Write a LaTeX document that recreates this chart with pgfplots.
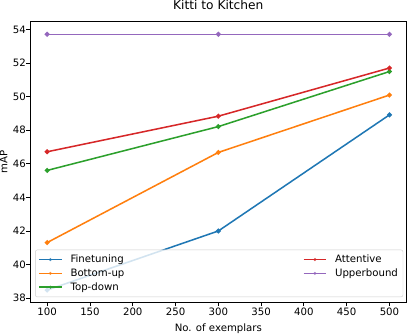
\documentclass[border=0pt]{standalone}
\usepackage{pgfplots}
\pgfplotsset{compat=1.18}
\usepackage{fontspec}
\setmainfont{DejaVu Sans}
\definecolor{tabblue}{HTML}{1F77B4}
\definecolor{taborange}{HTML}{FF7F0E}
\definecolor{tabgreen}{HTML}{2CA02C}
\definecolor{tabred}{HTML}{D62728}
\definecolor{tabpurple}{HTML}{9467BD}
\begin{document}
\begin{tikzpicture}
\begin{axis}[
  scale only axis,
  width=369bp, height=275bp,
  xmin=80, xmax=520,
  ymin=37.74, ymax=54.46,
  xtick={100,150,...,500},
  ytick={38,40,...,54},
  title={Kitti to Kitchen},
  title style={font=\fontsize{12}{14}\selectfont, at={(rel axis cs:0.5,1)}, anchor=south, yshift=6bp, inner sep=0pt},
  xlabel={No. of exemplars},
  ylabel={mAP},
  label style={font=\fontsize{10}{12}\selectfont},
  tick label style={font=\fontsize{10}{12}\selectfont},
  yticklabel style={inner sep=0.5bp},
  xticklabel style={inner sep=1.5bp},
  /pgf/number format/assume math mode=true,
  xlabel style={at={(rel axis cs:0.5,0)}, anchor=north, yshift=-21bp, inner sep=0pt},
  ylabel style={at={(rel axis cs:0,0.5)}, anchor=south, yshift=22bp, inner sep=0pt},
  tick align=outside,
  tick pos=left,
  major tick length=3.5bp,
  every tick/.style={black, line width=0.8bp},
  axis line style={line width=0.8bp},
  legend columns=2,
  legend cell align=left,
  legend style={at={(0.0135,0.019)}, anchor=south west,
    draw=black!20, rounded corners=2bp, fill=white, fill opacity=0.8, text opacity=1,
    font=\fontsize{10}{12}\selectfont,
    /tikz/every odd column/.append style={column sep=6bp},
    /tikz/every even column/.append style={column sep=173bp},
    row sep=0.5bp, inner sep=3bp},
  legend image code/.code={
    \draw[#1, line width=1.5bp] (0bp,0bp) -- (22bp,0bp);
    \fill[#1, draw=none] (11bp,0bp) circle (1.6bp);
  },
]
\addlegendimage{tabblue}
\addlegendentry{Finetuning}
\addlegendimage{tabred}
\addlegendentry{Attentive}
\addlegendimage{taborange}
\addlegendentry{Bottom-up}
\addlegendimage{tabpurple}
\addlegendentry{Upperbound}
\addlegendimage{tabgreen}
\addlegendentry{Top-down}
\addplot[tabblue, line width=1.5bp, mark=*, mark size=1.6bp, mark options={fill=tabblue, draw=none}, forget plot] coordinates {(100,38.48) (300,42.0) (500,48.92)};
\addplot[taborange, line width=1.5bp, mark=*, mark size=1.6bp, mark options={fill=taborange, draw=none}, forget plot] coordinates {(100,41.31) (300,46.68) (500,50.1)};
\addplot[tabgreen, line width=1.5bp, mark=*, mark size=1.6bp, mark options={fill=tabgreen, draw=none}, forget plot] coordinates {(100,45.61) (300,48.22) (500,51.5)};
\addplot[tabred, line width=1.5bp, mark=*, mark size=1.6bp, mark options={fill=tabred, draw=none}, forget plot] coordinates {(100,46.72) (300,48.84) (500,51.71)};
\addplot[tabpurple, line width=1.5bp, mark=*, mark size=1.6bp, mark options={fill=tabpurple, draw=none}, forget plot] coordinates {(100,53.72) (300,53.72) (500,53.72)};
\end{axis}
\end{tikzpicture}
\end{document}
